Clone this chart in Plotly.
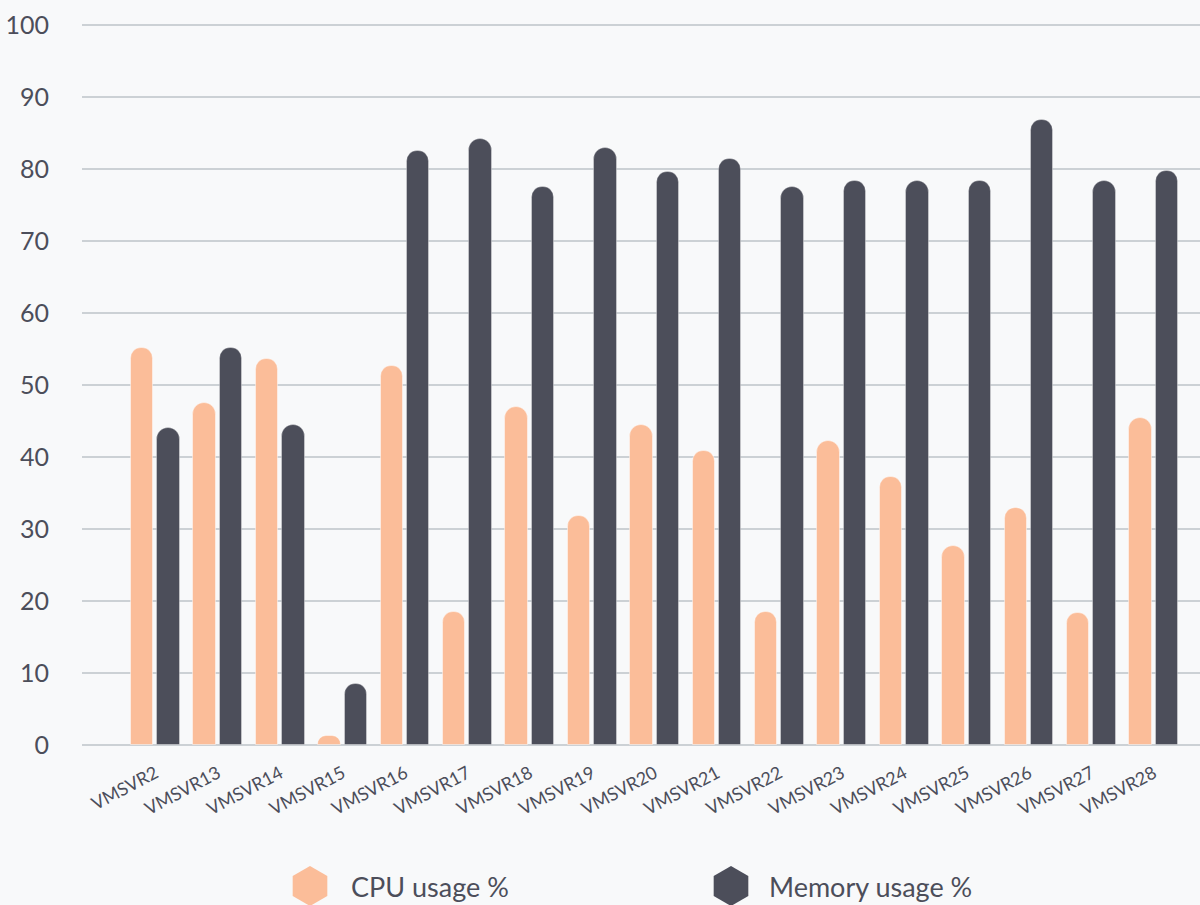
import plotly.graph_objects as go

# ---------------- data ----------------
servers = ["VMSVR2", "VMSVR13", "VMSVR14", "VMSVR15", "VMSVR16", "VMSVR17",
           "VMSVR18", "VMSVR19", "VMSVR20", "VMSVR21", "VMSVR22", "VMSVR23",
           "VMSVR24", "VMSVR25", "VMSVR26", "VMSVR27", "VMSVR28"]
cpu_usage = [55.2, 47.5, 53.6, 1.2, 52.7, 18.5, 47.0, 31.8, 44.4, 40.9,
             18.5, 42.2, 37.2, 27.6, 32.9, 18.4, 45.5]
mem_usage = [44.1, 55.2, 44.5, 8.5, 82.6, 84.2, 77.5, 82.9, 79.6, 81.4,
             77.5, 78.4, 78.4, 78.4, 86.9, 78.4, 79.7]
y_ticks = [0, 10, 20, 30, 40, 50, 60, 70, 80, 90, 100]
series_names = ["CPU usage %", "Memory usage %"]

# ---------------- style ----------------
CPU_COLOR = "#fbbd99"
MEM_COLOR = "#4c4e5a"
BG = "#f8f9fa"
GRID = "#ccd1d5"
TEXT = "#4c4e5a"
FONT = "Lato, Roboto, sans-serif"

W, H = 1200, 905
Y_MAX = 100.6            # a little headroom so the 100 gridline is drawn
px_per_unit = 7.2
top_px = 745 - Y_MAX * px_per_unit
M_L, M_R, M_T, M_B = 82, 0, top_px, 0
plot_h = H - M_T - M_B
base_px = 745
y_dom0 = (H - base_px) / plot_h

bar_w = 0.36
gap = 0.212

fig = go.Figure()
fig.add_trace(go.Bar(
    x=servers, y=cpu_usage, name=series_names[0],
    marker=dict(color=CPU_COLOR, cornerradius="50%",
                line=dict(color="rgba(255,255,255,0.45)", width=1)),
    width=bar_w, offset=-gap - bar_w / 2, showlegend=False,
))
fig.add_trace(go.Bar(
    x=servers, y=mem_usage, name=series_names[1],
    marker=dict(color=MEM_COLOR, cornerradius="50%",
                line=dict(color="rgba(255,255,255,0.35)", width=1)),
    width=bar_w, offset=gap - bar_w / 2, showlegend=False,
))

# custom legend drawn on an auxiliary axis (pixel-like coordinates)
legend_marker_x = [310, 731]
legend_text_x = [349, 767]
legend_y = 19
fig.add_trace(go.Scatter(
    x=legend_marker_x, y=[legend_y, legend_y], xaxis="x2", yaxis="y2",
    mode="markers", showlegend=False, hoverinfo="skip",
    marker=dict(symbol="hexagon", size=40, color=[CPU_COLOR, MEM_COLOR],
                line=dict(width=0)),
))
for name, tx in zip(series_names, legend_text_x):
    fig.add_annotation(x=tx, y=legend_y, xref="x2", yref="y2", text=name,
                       showarrow=False, xanchor="left", yanchor="middle",
                       font=dict(family=FONT, size=27, color=TEXT))

fig.update_layout(
    width=W, height=H,
    margin=dict(l=M_L, r=M_R, t=M_T, b=M_B, pad=0),
    paper_bgcolor=BG, plot_bgcolor=BG,
    font=dict(family=FONT, color=TEXT),
    bargap=0, showlegend=False,
    xaxis=dict(
        domain=[0, 1], anchor="y", automargin=False,
        range=[-1.176, 16.74], showgrid=False, zeroline=False, showline=False,
        tickangle=-28, tickfont=dict(family=FONT, size=18, color=TEXT),
        ticks="outside", ticklen=10, tickcolor="rgba(0,0,0,0)",
        fixedrange=True,
    ),
    yaxis=dict(
        domain=[y_dom0, 1], range=[0, Y_MAX], tickvals=y_ticks,
        automargin=False,
        showgrid=True, gridcolor=GRID, gridwidth=2,
        zeroline=True, zerolinecolor=GRID, zerolinewidth=2,
        ticks="outside", ticklen=27, tickcolor="rgba(0,0,0,0)",
        tickfont=dict(family=FONT, size=25, color=TEXT), showline=False,
    ),
    xaxis2=dict(domain=[0, 1], anchor="y2", range=[M_L, W], visible=False,
                fixedrange=True, automargin=False),
    yaxis2=dict(domain=[0, y_dom0], range=[0, H - base_px], visible=False,
                fixedrange=True, automargin=False),
)

fig.write_html(
    "out.html",
    config={"displayModeBar": False},
    post_script="document.body.style.margin='0px';"
                "document.body.style.overflow='hidden';",
)
